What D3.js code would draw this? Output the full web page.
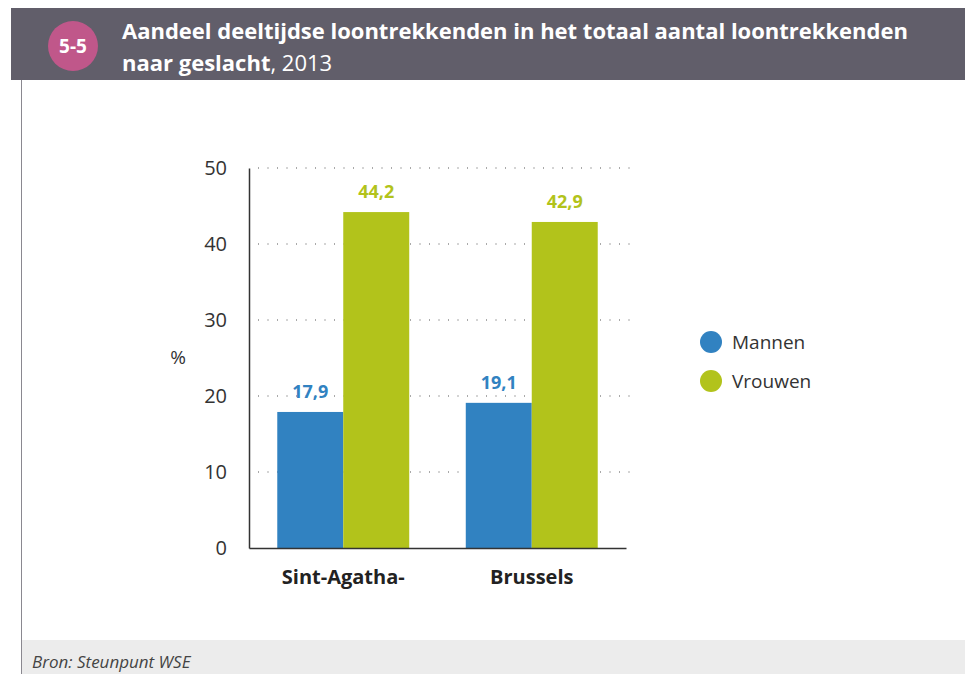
<!DOCTYPE html>
<html>
<head>
<meta charset="utf-8">
<script src="https://cdn.jsdelivr.net/npm/d3@7"></script>
<style>
  body { margin: 0; background: #fff; }
  svg { display: block; font-family: "Open Sans", "Noto Sans", sans-serif; }
</style>
</head>
<body>
<svg id="chart" width="965" height="674"></svg>
<script>
// data
var categories = ["Sint-Agatha-", "Brussels"];
var series = ["Mannen", "Vrouwen"];
var mannen = [17.9, 19.1];
var vrouwen = [44.2, 42.9];
var yTicks = [0, 10, 20, 30, 40, 50];
var colors = ["#3182c1", "#b2c31b"];

var svg = d3.select("#chart");

// header band
svg.append("rect").attr("x", 11).attr("y", 8).attr("width", 954).attr("height", 72).attr("fill", "#615e6a");
svg.append("circle").attr("cx", 73).attr("cy", 46).attr("r", 25).attr("fill", "#c0578a");
svg.append("text").attr("x", 73).attr("y", 53).attr("text-anchor", "middle")
	.attr("fill", "#fff").attr("font-weight", "bold").attr("font-size", 19).text("5-5");
svg.append("text").attr("x", 122).attr("y", 39).attr("fill", "#fff")
	.attr("font-weight", "bold").attr("font-size", 22)
	.text("Aandeel deeltijdse loontrekkenden in het totaal aantal loontrekkenden");
var t2 = svg.append("text").attr("x", 122).attr("y", 71).attr("fill", "#fff").attr("font-size", 22);
t2.append("tspan").attr("font-weight", "bold").text("naar geslacht");
t2.append("tspan").text(", 2013");

// body frame
svg.append("line").attr("x1", 21.5).attr("x2", 21.5).attr("y1", 80).attr("y2", 674)
	.attr("stroke", "#8a8890").attr("stroke-width", 1);
svg.append("rect").attr("x", 22).attr("y", 640).attr("width", 943).attr("height", 34).attr("fill", "#ececec");
svg.append("text").attr("x", 32).attr("y", 668).attr("fill", "#444").attr("font-style", "italic")
	.attr("font-size", 17).text("Bron: Steunpunt WSE");

// scales
var x0 = d3.scaleBand().domain(categories).range([249, 626]).paddingInner(0.3).paddingOuter(0.15);
var x1 = d3.scaleBand().domain(series).range([0, x0.bandwidth()]);
var y = d3.scaleLinear().domain([0, 50]).range([548, 168]);

// dotted gridlines
var grid = svg.append("g");
yTicks.filter(function(d) { return d > 0; }).forEach(function(t) {
	grid.append("line").attr("x1", 258).attr("x2", 630).attr("y1", y(t)).attr("y2", y(t))
		.attr("stroke", "#555").attr("stroke-width", 1.2).attr("stroke-dasharray", "1,8.5");
});

// bars
var rows = categories.map(function(c, i) { return {cat: c, vals: [mannen[i], vrouwen[i]]}; });
var groups = svg.selectAll("g.grp").data(rows).enter().append("g").attr("class", "grp")
	.attr("transform", function(d) { return "translate(" + x0(d.cat) + ",0)"; });
groups.selectAll("rect").data(function(d) { return d.vals; }).enter().append("rect")
	.attr("x", function(d, i) { return x1(series[i]); })
	.attr("width", x1.bandwidth())
	.attr("y", function(d) { return y(d); })
	.attr("height", function(d) { return y(0) - y(d); })
	.attr("fill", function(d, i) { return colors[i]; });
groups.selectAll("text").data(function(d) { return d.vals; }).enter().append("text")
	.attr("x", function(d, i) { return x1(series[i]) + x1.bandwidth() / 2; })
	.attr("y", function(d) { return y(d) - 14; })
	.attr("text-anchor", "middle").attr("font-weight", "bold").attr("font-size", 18)
	.attr("fill", function(d, i) { return colors[i]; })
	.text(function(d) { return String(d).replace(".", ","); });

// axes
var yAxis = svg.append("g").attr("transform", "translate(249,0)")
	.call(d3.axisLeft(y).tickValues(yTicks).tickSize(0).tickPadding(22));
yAxis.select(".domain").attr("stroke", "#333").attr("stroke-width", 1.5);
yAxis.selectAll("text").attr("font-size", 20).attr("fill", "#333")
	.attr("font-family", "'Open Sans', sans-serif");

var xAxis = svg.append("g").attr("transform", "translate(0,548)")
	.call(d3.axisBottom(x0).tickSize(0).tickPadding(22));
xAxis.select(".domain").attr("stroke", "#333").attr("stroke-width", 1.5);
xAxis.selectAll("text").attr("font-size", 20).attr("font-weight", "bold").attr("fill", "#222")
	.attr("font-family", "'Open Sans', sans-serif");

svg.append("text").attr("x", 178).attr("y", 364).attr("text-anchor", "middle")
	.attr("font-size", 19).attr("fill", "#333").text("%");

// legend
var leg = svg.selectAll("g.leg").data(series).enter().append("g").attr("class", "leg")
	.attr("transform", function(d, i) { return "translate(711," + (342 + i * 39) + ")"; });
leg.append("circle").attr("r", 11).attr("fill", function(d, i) { return colors[i]; });
leg.append("text").attr("x", 21).attr("y", 7).attr("font-size", 19).attr("fill", "#333")
	.text(function(d) { return d; });
</script>
</body>
</html>
